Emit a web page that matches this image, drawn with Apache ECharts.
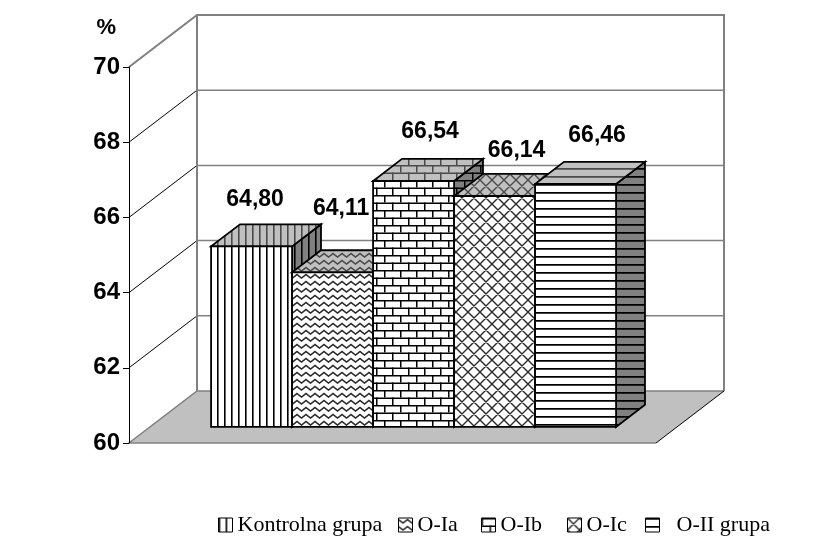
<!DOCTYPE html>
<html>
<head>
<meta charset="utf-8">
<script src="https://cdn.jsdelivr.net/npm/echarts@6/dist/echarts.min.js"></script>
<style>
  html, body { margin: 0; padding: 0; background: #ffffff; }
  #chart { width: 822px; height: 550px; }
</style>
</head>
<body>
<div id="chart"></div>
<script>
// Groups and their mean values (%)
const groups = ['Kontrolna grupa', 'O-Ia', 'O-Ib', 'O-Ic', 'O-II grupa'];
const values = [64.80, 64.11, 66.54, 66.14, 66.46];
const yTicks = [60, 62, 64, 66, 68, 70];
const fillKinds = ['vertical', 'zigzag', 'brick', 'diamond', 'horizontal'];

// Layout of the pseudo-3D box
const DEPTH_X = 68, DEPTH_Y = 52;        // offset from the front plane to the back wall
const BAR_FRONT = 0.31, BAR_BACK = 0.735; // bar depth as fractions of the full depth
const CLUSTER = 0.7685;                   // share of the floor width used by the bars
const LABEL_NUDGE = [[3.5, -47], [8.5, -64], [16.5, -49], [22, -45.5], [21.5, -48]];
const LEGEND_X = [218, 398, 481, 567, 645];
const LEGEND_TEXT_PAD = [0, 0, 0, 0, 12];

const Y_MIN = yTicks[0], Y_MAX = yTicks[yTicks.length - 1];
const LABEL_FONT = '"Liberation Sans", Arial, sans-serif';

// Hatch tiles
const painters = {
  vertical: { w: 7, h: 6, paint(g, fg) {
    g.fillStyle = fg; g.fillRect(0, 0, 1, 6);
    g.globalAlpha = 0.6; g.fillRect(1, 0, 1, 6);
  }},
  zigzag: { w: 9, h: 7, paint(g, fg) {
    g.strokeStyle = fg; g.lineWidth = 1.5; g.beginPath();
    g.moveTo(-4.5, 5); g.lineTo(0, 1.5); g.lineTo(4.5, 5); g.lineTo(9, 1.5); g.lineTo(13.5, 5);
    g.stroke();
  }},
  brick: { w: 16, h: 15, paint(g, fg) {
    g.fillStyle = fg;
    g.fillRect(0, 0, 16, 1.5); g.fillRect(0, 7.5, 16, 1.5);
    g.fillRect(0, 0, 1.5, 7.5); g.fillRect(8, 7.5, 1.5, 7.5);
  }},
  diamond: { w: 12, h: 12, paint(g, fg) {
    g.strokeStyle = fg; g.lineWidth = 1.4; g.beginPath();
    for (let k = -12; k <= 12; k += 12) {
      g.moveTo(-2 + k, -2); g.lineTo(14 + k, 14);
      g.moveTo(14 + k, -2); g.lineTo(-2 + k, 14);
    }
    g.stroke();
  }},
  horizontal: { w: 6, h: 8, paint(g, fg) {
    g.fillStyle = fg; g.fillRect(0, 0, 6, 1);
    g.globalAlpha = 0.75; g.fillRect(0, 1, 6, 1);
  }}
};

function makePattern(kind, bg, fg) {
  const p = painters[kind];
  const c = document.createElement('canvas');
  c.width = p.w; c.height = p.h;
  const g = c.getContext('2d');
  g.fillStyle = bg; g.fillRect(0, 0, p.w, p.h);
  p.paint(g, fg);
  return { image: c, repeat: 'repeat' };
}

const faceFills = fillKinds.map(kind => ({
  front: makePattern(kind, '#ffffff', kind === 'zigzag' || kind === 'diamond' ? '#2a2a2a' : '#000000'),
  top: makePattern(kind, '#c0c0c0', '#4a4a4a'),
  side: makePattern(kind, '#808080', '#000000')
}));

const fmt = v => v.toFixed(2).replace('.', ',');

// Back wall, side wall lines and floor
function renderFrame(params, api) {
  const cs = params.coordSys;
  const xL = cs.x, xR = cs.x + cs.width;
  const yOf = t => api.coord([0, t])[1];
  const y0 = yOf(Y_MIN), y1 = yOf(Y_MAX);
  const grey = '#808080';
  const kids = [];
  kids.push({ type: 'polygon', shape: { points: [
    [xL + DEPTH_X, y1 - DEPTH_Y], [xR + DEPTH_X, y1 - DEPTH_Y],
    [xR + DEPTH_X, y0 - DEPTH_Y], [xL + DEPTH_X, y0 - DEPTH_Y]] },
    style: { fill: '#ffffff' } });
  yTicks.slice(1, -1).forEach(t => {
    const y = yOf(t);
    kids.push({ type: 'line', shape: { x1: xL + DEPTH_X, y1: y - DEPTH_Y, x2: xR + DEPTH_X, y2: y - DEPTH_Y },
      style: { stroke: grey, lineWidth: 1.5 } });
    kids.push({ type: 'line', shape: { x1: xL, y1: y, x2: xL + DEPTH_X, y2: y - DEPTH_Y },
      style: { stroke: '#000000', lineWidth: 1 } });
  });
  // wall outline
  kids.push({ type: 'polyline', shape: { points: [
    [xL, y1], [xL + DEPTH_X, y1 - DEPTH_Y], [xR + DEPTH_X, y1 - DEPTH_Y], [xR + DEPTH_X, y0 - DEPTH_Y]] },
    style: { stroke: grey, lineWidth: 2, fill: null } });
  kids.push({ type: 'line', shape: { x1: xL + DEPTH_X, y1: y1 - DEPTH_Y, x2: xL + DEPTH_X, y2: y0 - DEPTH_Y },
    style: { stroke: grey, lineWidth: 2 } });
  // floor
  kids.push({ type: 'polygon', shape: { points: [
    [xL, y0], [xR, y0], [xR + DEPTH_X, y0 - DEPTH_Y], [xL + DEPTH_X, y0 - DEPTH_Y]] },
    style: { fill: '#c0c0c0' } });
  kids.push({ type: 'polyline', shape: { points: [[xR, y0], [xL, y0], [xL + DEPTH_X, y0 - DEPTH_Y], [xR + DEPTH_X, y0 - DEPTH_Y]] },
    style: { stroke: grey, lineWidth: 1.5, fill: null } });
  kids.push({ type: 'line', shape: { x1: xR, y1: y0, x2: xR + DEPTH_X, y2: y0 - DEPTH_Y },
    style: { stroke: '#000000', lineWidth: 1 } });
  return { type: 'group', children: kids };
}

// One box per group, placed side by side inside the single category band
function barRenderer(idx) {
  return function (params, api) {
    const v = api.value(1);
    const base = api.coord([api.value(0), Y_MIN]);
    const top = api.coord([api.value(0), v]);
    const band = api.size([1, 0])[0];
    const bw = band * CLUSTER / groups.length;
    const fx = DEPTH_X * BAR_FRONT, fy = DEPTH_Y * BAR_FRONT;
    const dx = DEPTH_X * (BAR_BACK - BAR_FRONT), dy = DEPTH_Y * (BAR_BACK - BAR_FRONT);
    const x0 = base[0] + (idx - groups.length / 2) * bw + fx;
    const x1 = x0 + bw;
    const yb = base[1] - fy;
    const yt = top[1] - fy;
    const edge = { stroke: '#000000', lineWidth: 1.8, lineJoin: 'miter' };
    const f = faceFills[idx];
    return {
      type: 'group',
      children: [
        { type: 'polygon', shape: { points: [[x1, yt], [x1 + dx, yt - dy], [x1 + dx, yb - dy], [x1, yb]] },
          style: Object.assign({ fill: f.side }, edge) },
        { type: 'polygon', shape: { points: [[x0, yt], [x1, yt], [x1 + dx, yt - dy], [x0 + dx, yt - dy]] },
          style: Object.assign({ fill: f.top }, edge) },
        { type: 'rect', shape: { x: x0, y: yt, width: bw, height: yb - yt },
          style: Object.assign({ fill: f.front }, edge) },
        { type: 'text', z2: 100,
          style: { text: fmt(v), x: (x0 + x1) / 2 + LABEL_NUDGE[idx][0], y: yt + LABEL_NUDGE[idx][1],
            align: 'center', verticalAlign: 'middle',
            font: 'bold 23px ' + LABEL_FONT, fill: '#000000' } }
      ]
    };
  };
}

const chart = echarts.init(document.getElementById('chart'), null, { renderer: 'canvas' });

const series = [{
  name: 'frame', type: 'custom', z: 1, silent: true,
  renderItem: renderFrame, data: [[0, Y_MIN]]
}].concat(groups.map((name, i) => ({
  name, type: 'custom', z: 2, silent: true,
  itemStyle: { color: faceFills[i].front, borderColor: '#000', borderWidth: 1 },
  renderItem: barRenderer(i),
  data: [[0, values[i]]]
})));

const legends = groups.map((name, i) => ({
  left: LEGEND_X[i], top: 514, padding: 0,
  itemWidth: 14, itemHeight: 14, selectedMode: false,
  data: [{ name, icon: 'rect', itemStyle: { color: faceFills[i].front, borderColor: '#000000', borderWidth: 1 } }],
  textStyle: { fontFamily: '"Liberation Serif", "Times New Roman", serif', fontSize: 22, color: '#000000',
    padding: [0, 0, 0, LEGEND_TEXT_PAD[i]] }
}));

chart.setOption({
  animation: false,
  backgroundColor: '#ffffff',
  grid: { left: 129, right: 166, top: 67, bottom: 107, containLabel: false },
  xAxis: {
    type: 'category', data: [''],
    axisLine: { show: false }, axisTick: { show: false }, axisLabel: { show: false }, splitLine: { show: false }
  },
  yAxis: {
    type: 'value', min: Y_MIN, max: Y_MAX, interval: 2, z: 5,
    name: '%', nameLocation: 'end', nameGap: 28,
    nameTextStyle: { fontFamily: LABEL_FONT, fontWeight: 'bold', fontSize: 22, color: '#000', align: 'right', padding: [0, 13, 0, 0] },
    axisLine: { show: true, lineStyle: { color: '#000000', width: 1 } },
    axisTick: { show: true, length: 6, lineStyle: { color: '#000000', width: 1 } },
    axisLabel: { margin: 9, fontFamily: LABEL_FONT, fontWeight: 'bold', fontSize: 24, color: '#000000' },
    splitLine: { show: false }
  },
  legend: legends,
  series
});
</script>
</body>
</html>
